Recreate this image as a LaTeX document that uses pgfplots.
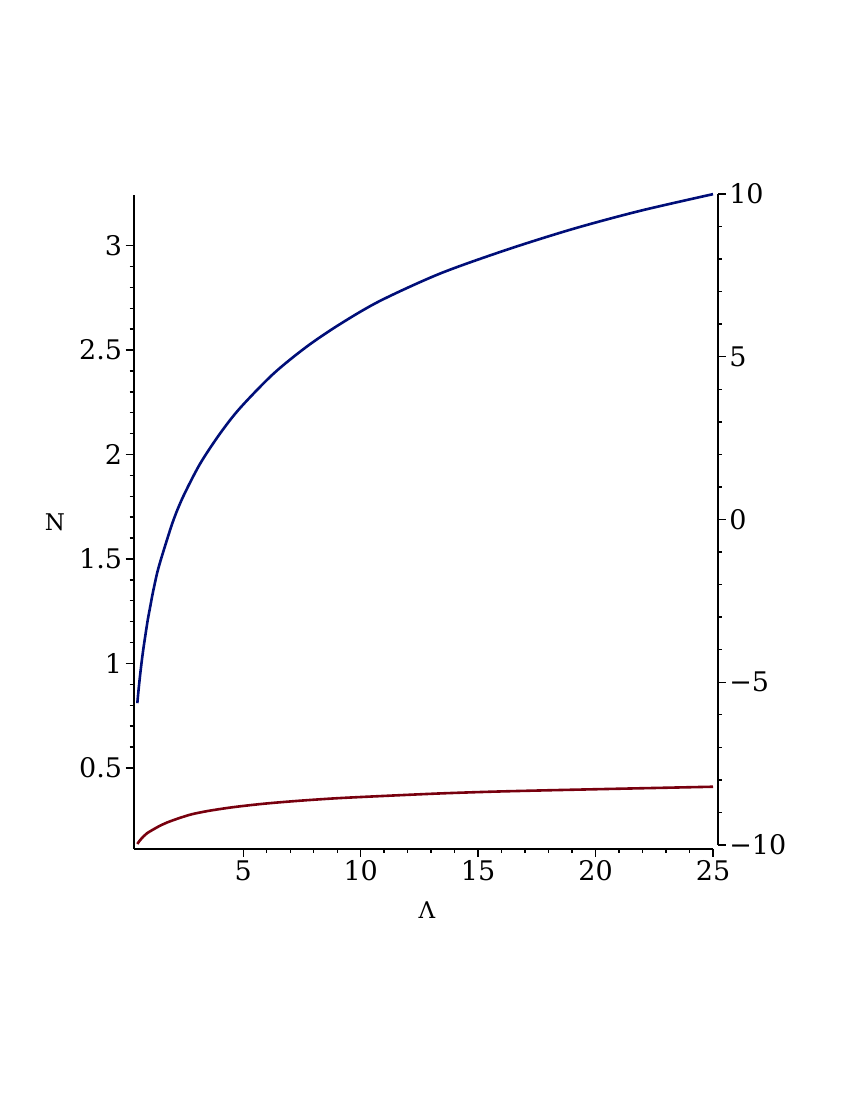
\documentclass[border=0pt]{standalone}
\usepackage{pgfplots}
\pgfplotsset{compat=1.18}
\usepackage{fontspec}
\setmainfont{DejaVu Serif}

\definecolor{mapleblue}{HTML}{000E78}
\definecolor{maplered}{HTML}{78000E}

\pgfplotsset{
  maplestyle/.style={
    scale only axis,
    tick align=outside,
    major tick length=8pt,
    minor tick length=4pt,
    every tick/.style={black, line width=1.4pt},
    axis line style={-, line width=1.6pt},
    /pgf/number format/assume math mode=true,
    tick label style={font=\fontsize{27}{32}\selectfont},
  },
}

\begin{document}
\begin{tikzpicture}
\useasboundingbox (0,0) rectangle (850pt,1100pt);

% left axis with both curves
\begin{axis}[
  maplestyle,
  at={(133.7pt,251pt)}, anchor=south west,
  width=579.3pt, height=654pt,
  xmin=0.336, xmax=25,
  ymin=0.112, ymax=3.242,
  axis x line*=bottom, axis y line*=left,
  xtick={5,10,15,20,25},
  minor x tick num=4,
  ytick={0.5,1,1.5,2,2.5,3},
  yticklabels={0.5,1,1.5,2,2.5,3},
  minor y tick num=4,
  xlabel={Λ}, ylabel={N},
  every axis x label/.style={at={(rel axis cs:0.506,-0.093)}, anchor=center, font=\fontsize{23}{28}\selectfont},
  every axis y label/.style={at={(rel axis cs:-0.136,0.5)}, anchor=center, font=\fontsize{23}{28}\selectfont},
  clip=false,
]
\addplot[mapleblue, line width=2.6pt, smooth, line join=round] coordinates {
  (0.49,0.810) (0.54,0.870) (0.60,0.935) (0.67,1.003) (0.745,1.068)
  (0.84,1.140) (0.94,1.212) (1.04,1.272) (1.145,1.335) (1.35,1.440)
  (1.596,1.535) (2.022,1.684) (2.448,1.800) (3.159,1.955) (4.010,2.100)
  (4.862,2.222) (6.28,2.386) (7.70,2.516) (9.12,2.624) (10.82,2.735)
  (13.38,2.866) (16.22,2.980) (19.05,3.080) (21.89,3.166) (25,3.246)
};
\addplot[maplered, line width=2.6pt, smooth, line join=round] coordinates {
  (0.49,0.136) (0.6,0.153) (0.75,0.172) (0.9,0.187) (1.1,0.201)
  (1.4,0.220) (1.74,0.238) (2.2,0.257) (2.8,0.278) (3.5,0.294)
  (4.3,0.308) (5.0,0.318) (6.0,0.330) (7.4,0.343) (9.0,0.355)
  (11,0.366) (13.4,0.378) (15.5,0.386) (17.6,0.392) (20,0.398)
  (22.5,0.404) (25,0.410)
};
\end{axis}

% right axis
\begin{axis}[
  maplestyle,
  at={(138.4pt,255pt)}, anchor=south west,
  width=579.3pt, height=651pt,
  xmin=0, xmax=1,
  ymin=-10, ymax=10,
  axis x line=none, axis y line*=right,
  ytick={-10,-5,0,5,10},
  yticklabels={−10,−5,0,5,10},
  minor y tick num=4,
]
\end{axis}
\end{tikzpicture}
\end{document}
